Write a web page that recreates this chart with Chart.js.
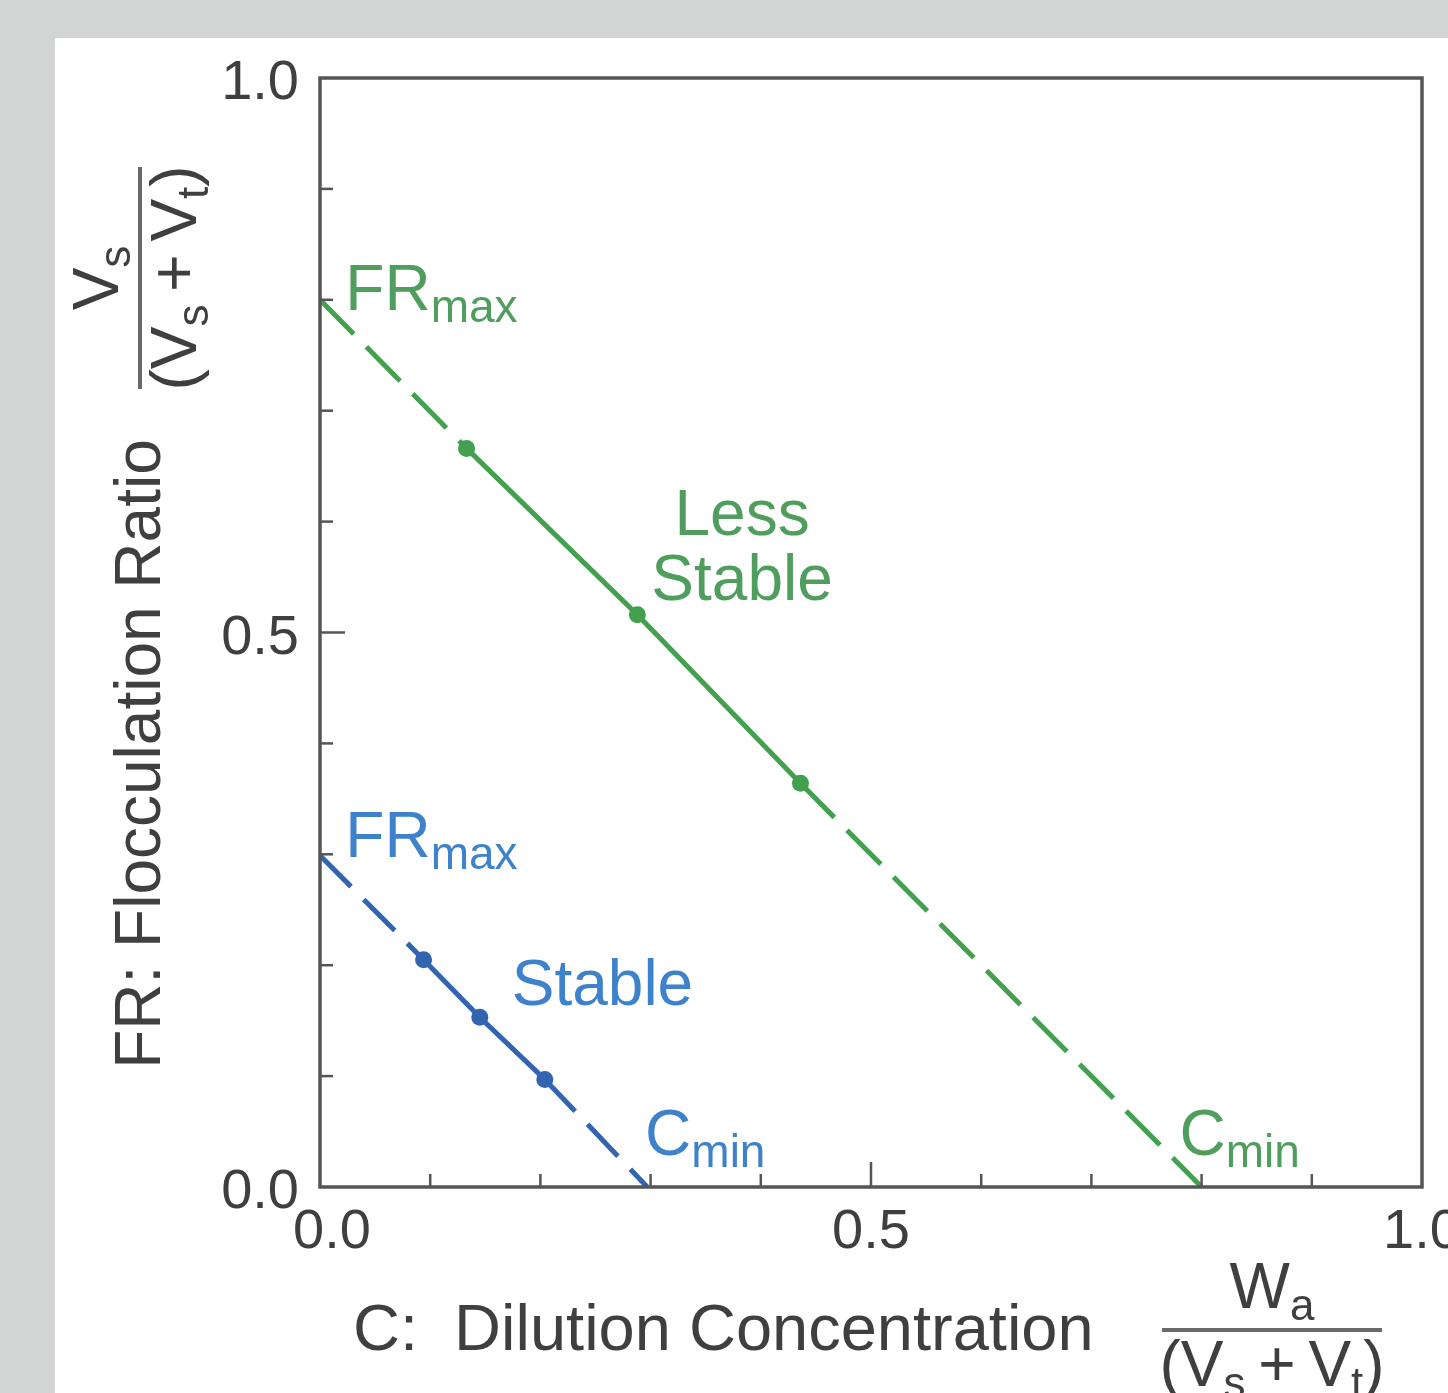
<!DOCTYPE html>
<html>
<head>
<meta charset="utf-8">
<script src="https://cdn.jsdelivr.net/npm/chart.js@4.4.1/dist/chart.umd.min.js"></script>
<style>
  html, body { margin: 0; padding: 0; background: #d3d5d4; }
  canvas { display: block; }
</style>
</head>
<body>
<canvas id="floc" width="1448" height="1393"></canvas>
<script>
// measured points (C, FR) for each oil
const greenC = [0.133, 0.288, 0.436];
const greenFR = [0.666, 0.516, 0.364];
const greenFRmax = 0.8;
const greenCmin = 0.8;

const blueC = [0.094, 0.145, 0.204];
const blueFR = [0.205, 0.153, 0.097];
const blueFRmax = 0.299;
const blueCmin = 0.297;

// tick values
const tickValues = [0, 0.1, 0.2, 0.3, 0.4, 0.5, 0.6, 0.7, 0.8, 0.9, 1.0];
const tickLabels = { 0: '0.0', 0.5: '0.5', 1: '1.0' };

const FONT = '"Liberation Sans", Arial, Helvetica, sans-serif';
const GREEN = '#42a04f';
const GREEN_TXT = '#4f9e5e';
const BLUE = '#3364b0';
const BLUE_TXT = '#3d82ca';
const INK = '#3f3f3f';

// línea completa: FRmax -> puntos medidos -> Cmin
function buildLine(cs, frs, frMax, cMin) {
    const pts = [{ x: 0, y: frMax }];
    cs.forEach((c, i) => pts.push({ x: c, y: frs[i] }));
    pts.push({ x: cMin, y: 0 });
    return pts;
}

function lineDataset(pts, color, dash) {
    const last = pts.length - 1;
    return {
        data: pts,
        borderColor: color,
        backgroundColor: color,
        borderWidth: 5,
        pointRadius: pts.map((p, i) => (i === 0 || i === last) ? 0 : 8.5),
        pointBorderWidth: 0,
        tension: 0,
        segment: {
            borderDash: ctx => (ctx.p0DataIndex === 0 || ctx.p1DataIndex === last) ? dash : undefined
        }
    };
}

// texto con subíndices: runs = [[texto, esSub], ...]
function runWidth(ctx, runs, size, subSize) {
    let w = 0;
    runs.forEach(([t, sub]) => {
        ctx.font = (sub ? subSize : size) + 'px ' + FONT;
        w += ctx.measureText(t).width;
    });
    return w;
}
function drawRuns(ctx, runs, x, y, size, subSize, align) {
    const w = runWidth(ctx, runs, size, subSize);
    let cx = align === 'center' ? x - w / 2 : x;
    ctx.textAlign = 'left';
    ctx.textBaseline = 'alphabetic';
    runs.forEach(([t, sub]) => {
        ctx.font = (sub ? subSize : size) + 'px ' + FONT;
        ctx.fillText(t, cx, sub ? y + 12 : y);
        cx += ctx.measureText(t).width;
    });
}
function drawFraction(ctx, num, den, cx, cy, halfLen) {
    ctx.fillStyle = INK;
    drawRuns(ctx, num, cx, cy - 22, 64, 44, 'center');
    drawRuns(ctx, den, cx, cy + 56, 64, 44, 'center');
    ctx.strokeStyle = '#6a6a6a';
    ctx.lineWidth = 4;
    ctx.beginPath();
    ctx.moveTo(cx - halfLen, cy);
    ctx.lineTo(cx + halfLen, cy);
    ctx.stroke();
}

const DENOM = [['(V', false], ['s', true], ['\u2009+\u2009', false], ['V', false], ['t', true], [')', false]];

const annotations = [
    { runs: [['FR', false], ['max', true]], x: 0.023, y: 0.791, color: GREEN_TXT, align: 'left' },
    { runs: [['Less', false]], x: 0.383, y: 0.588, color: GREEN_TXT, align: 'center' },
    { runs: [['Stable', false]], x: 0.383, y: 0.529, color: GREEN_TXT, align: 'center' },
    { runs: [['C', false], ['min', true]], x: 0.780, y: 0.029, color: GREEN_TXT, align: 'left' },
    { runs: [['FR', false], ['max', true]], x: 0.023, y: 0.298, color: BLUE_TXT, align: 'left' },
    { runs: [['Stable', false]], x: 0.174, y: 0.164, color: BLUE_TXT, align: 'left' },
    { runs: [['C', false], ['min', true]], x: 0.295, y: 0.029, color: BLUE_TXT, align: 'left' }
];

const background = {
    id: 'background',
    beforeDraw(chart) {
        const ctx = chart.ctx;
        ctx.save();
        ctx.fillStyle = '#d3d5d4';
        ctx.fillRect(0, 0, chart.width, chart.height);
        ctx.fillStyle = '#ffffff';
        ctx.fillRect(55, 38, chart.width - 55, chart.height - 38);
        ctx.restore();
    }
};

const frame = {
    id: 'frame',
    afterDraw(chart) {
        const ctx = chart.ctx;
        const a = chart.chartArea;
        const xs = chart.scales.x, ys = chart.scales.y;
        ctx.save();
        // caja
        ctx.strokeStyle = '#555';
        ctx.lineWidth = 3.5;
        ctx.strokeRect(a.left, a.top, a.right - a.left, a.bottom - a.top);
        // ticks interiores
        ctx.lineWidth = 2.5;
        tickValues.forEach(v => {
            const len = (v === 0.5) ? 25 : 13;
            if (v > 0 && v < 1) {
                const px = xs.getPixelForValue(v);
                ctx.beginPath(); ctx.moveTo(px, a.bottom); ctx.lineTo(px, a.bottom - len); ctx.stroke();
                const py = ys.getPixelForValue(v);
                ctx.beginPath(); ctx.moveTo(a.left, py); ctx.lineTo(a.left + len, py); ctx.stroke();
            }
        });
        // etiquetas de ticks
        ctx.fillStyle = INK;
        ctx.font = '56px ' + FONT;
        ctx.textBaseline = 'alphabetic';
        Object.keys(tickLabels).forEach(k => {
            const v = Number(k);
            ctx.textAlign = 'right';
            ctx.fillText(tickLabels[k], a.left - 21, ys.getPixelForValue(v) + 21);
            ctx.textAlign = 'center';
            ctx.fillText(tickLabels[k], xs.getPixelForValue(v) + (v === 0 ? 12 : 0), a.bottom + 61);
        });
        // títulos de ejes
        ctx.font = '65px ' + FONT;
        ctx.textAlign = 'left';
        ctx.fillText('C:  Dilution Concentration', 353, 1350);
        drawFraction(ctx, [['W', false], ['a', true]], DENOM, 1272, 1330, 110);

        ctx.save();
        ctx.translate(160, 754);
        ctx.rotate(-Math.PI / 2);
        ctx.font = '64px ' + FONT;
        ctx.textAlign = 'center';
        ctx.fillStyle = INK;
        ctx.fillText('FR: Flocculation Ratio', 0, 0);
        ctx.restore();

        ctx.save();
        ctx.translate(140, 278);
        ctx.rotate(-Math.PI / 2);
        drawFraction(ctx, [['V', false], ['s', true]], DENOM, 0, 0, 111);
        ctx.restore();

        // anotaciones
        annotations.forEach(an => {
            ctx.fillStyle = an.color;
            drawRuns(ctx, an.runs, xs.getPixelForValue(an.x), ys.getPixelForValue(an.y), 64, 46, an.align);
        });
        ctx.restore();
    }
};

new Chart(document.getElementById('floc'), {
    type: 'line',
    data: {
        datasets: [
            lineDataset(buildLine(greenC, greenFR, greenFRmax, greenCmin), GREEN, [48, 18]),
            lineDataset(buildLine(blueC, blueFR, blueFRmax, blueCmin), BLUE, [44, 18])
        ]
    },
    options: {
        responsive: false,
        animation: false,
        layout: { autoPadding: false, padding: { left: 0, top: 78, right: 26, bottom: 0 } },
        plugins: { legend: { display: false }, tooltip: { enabled: false } },
        scales: {
            x: {
                type: 'linear', min: 0, max: 1,
                grid: { display: false }, border: { display: false },
                ticks: { display: false },
                afterFit: s => { s.height = 206; }
            },
            y: {
                type: 'linear', min: 0, max: 1,
                grid: { display: false }, border: { display: false },
                ticks: { display: false },
                afterFit: s => { s.width = 320; }
            }
        }
    },
    plugins: [background, frame]
});
</script>
</body>
</html>
